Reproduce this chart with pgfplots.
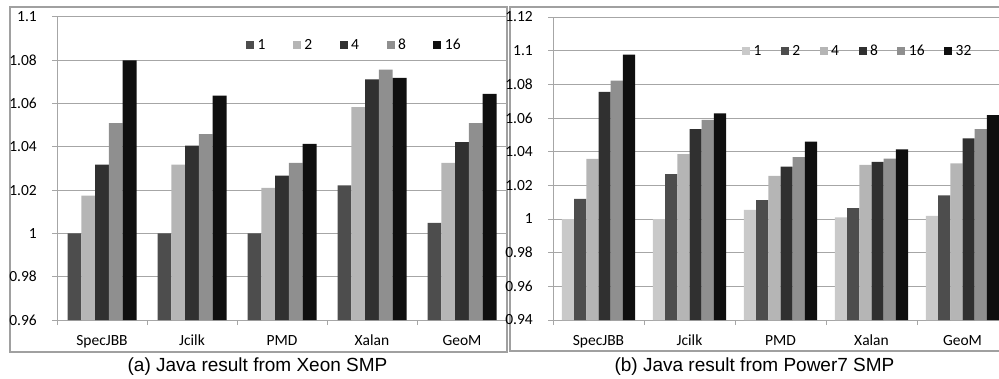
\documentclass[border=0pt]{standalone}
\usepackage{pgfplots}
\pgfplotsset{compat=1.18}
\usepackage{fontspec}
\setmainfont{Carlito}
\newfontfamily\arialfont{Liberation Sans}
\definecolor{gridc}{HTML}{A6A6A6}
\definecolor{boxc}{HTML}{A0A0A0}
\definecolor{gA}{HTML}{4D4D4D}
\definecolor{gB}{HTML}{B5B5B5}
\definecolor{gC}{HTML}{303030}
\definecolor{gD}{HTML}{8F8F8F}
\definecolor{gE}{HTML}{0F0F0F}
\definecolor{gL}{HTML}{C9C9C9}
\pgfplotsset{
  excelbar/.style={
    scale only axis,
    anchor=south west,
    height=303pt,
    ybar=0pt,
    axis lines*=left,
    axis line style={gridc, line width=1pt},
    ymajorgrids=true,
    grid style={gridc, line width=1pt},
    xmin=-0.5, xmax=4.5,
    xtick={-0.5,0.5,1.5,2.5,3.5,4.5},
    xticklabels={SpecJBB,Jcilk,PMD,Xalan,GeoM},
    x tick label as interval,
    tick align=outside,
    major tick length=5pt,
    tick style={gridc, line width=1pt},
    tick label style={font=\fontsize{15.5}{18}\selectfont},
    /pgf/number format/assume math mode=true,
    yticklabel style={/pgf/number format/fixed, /pgf/number format/precision=2, anchor=east, inner sep=0pt, xshift=-15pt},
    xticklabel style={anchor=base, inner sep=0pt, yshift=-20.7pt},
    legend columns=-1,
    legend image code/.code={\draw[##1, draw=none] (0pt,-4pt) rectangle (8pt,4pt);},
    legend style={draw=none, fill=none, anchor=west, inner sep=0pt, outer sep=0pt,
      font=\fontsize{15.5}{18}\selectfont, nodes={inner sep=0pt},
      /tikz/every odd column/.append style={column sep=3.5pt}},
  }
}
\begin{document}
\begin{tikzpicture}
\useasboundingbox (0,0) rectangle (999pt,378pt);
\clip (0,0) rectangle (999pt,378pt);
% chart boxes
\draw[boxc, line width=1.7pt] (10pt,371pt) rectangle (507pt,26pt);
\draw[boxc, line width=1.7pt] (510pt,371pt) rectangle (1012pt,27pt);
% (a) Xeon
\begin{axis}[excelbar, at={(57pt,58pt)}, width=450pt,
  ymin=0.96, ymax=1.1, ytick={0.96,0.98,1,1.02,1.04,1.06,1.08,1.1},
  bar width=13.8pt,
  legend style={at={(0.42,0.9076)}, /tikz/every even column/.append style={column sep=27.5pt}}]
\addplot[fill=gA, draw=none] coordinates {(0,1.000) (1,1.000) (2,1.000) (3,1.0222) (4,1.0049)};
\addplot[fill=gB, draw=none] coordinates {(0,1.0175) (1,1.0318) (2,1.0211) (3,1.0584) (4,1.0326)};
\addplot[fill=gC, draw=none] coordinates {(0,1.0318) (1,1.0406) (2,1.0267) (3,1.0712) (4,1.0422)};
\addplot[fill=gD, draw=none] coordinates {(0,1.0510) (1,1.0459) (2,1.0326) (3,1.0757) (4,1.0510)};
\addplot[fill=gE, draw=none] coordinates {(0,1.0800) (1,1.0637) (2,1.0414) (3,1.0719) (4,1.0645)};
\legend{1,2,4,8,16}
\end{axis}
% (b) Power7
\begin{axis}[excelbar, at={(553pt,58pt)}, width=455pt,
  ymin=0.94, ymax=1.12, ytick={0.94,0.96,0.98,1,1.02,1.04,1.06,1.08,1.1,1.12},
  bar width=12.2pt,
  legend style={at={(0.4154,0.8878)}, /tikz/every even column/.append style={column sep=19.5pt}}]
\addplot[fill=gL, draw=none] coordinates {(0,1.000) (1,1.000) (2,1.0054) (3,1.0010) (4,1.0018)};
\addplot[fill=gA, draw=none] coordinates {(0,1.0120) (1,1.0266) (2,1.0112) (3,1.0064) (4,1.0140)};
\addplot[fill=gB, draw=none] coordinates {(0,1.0357) (1,1.0386) (2,1.0256) (3,1.0321) (4,1.0331)};
\addplot[fill=gC, draw=none] coordinates {(0,1.0755) (1,1.0534) (2,1.0311) (3,1.0339) (4,1.0479)};
\addplot[fill=gD, draw=none] coordinates {(0,1.0822) (1,1.0589) (2,1.0368) (3,1.0359) (4,1.0534)};
\addplot[fill=gE, draw=none] coordinates {(0,1.0977) (1,1.0627) (2,1.0459) (3,1.0414) (4,1.0617)};
\legend{1,2,4,8,16,32}
\end{axis}
% captions
\node[anchor=base, inner sep=0pt, font=\arialfont\fontsize{19}{22}\selectfont] at (257.5pt,6.5pt) {(a) Java result from Xeon SMP};
\node[anchor=base, inner sep=0pt, font=\arialfont\fontsize{19}{22}\selectfont] at (754.5pt,6.5pt) {(b) Java result from Power7 SMP};
\end{tikzpicture}
\end{document}
